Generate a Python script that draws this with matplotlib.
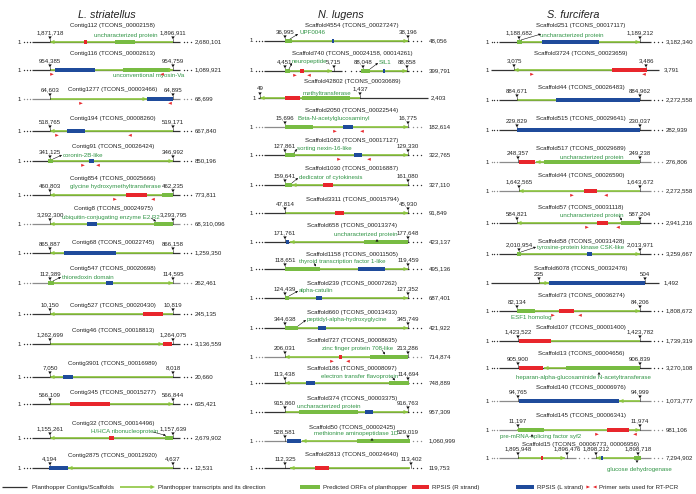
import matplotlib
matplotlib.use("Agg")
import matplotlib.pyplot as plt
from matplotlib.patches import Polygon, Rectangle

plt.rcParams['font.family'] = ['Liberation Sans', 'DejaVu Sans']

TITLES = ["L. striatellus", "N. lugens", "S. furcifera"]

# ---------------- L. striatellus ----------------
L_NAMES = ["Contig112 (TCONS_00002158)", "Contig116 (TCONS_00002613)", "Contig1277 (TCONS_00003466)",
           "Contig194 (TCONS_00008260)", "Contig91 (TCONS_00026424)", "Contig854 (TCONS_00025666)",
           "Contig8 (TCONS_00024975)", "Contig68 (TCONS_00022745)", "Contig547 (TCONS_00020698)",
           "Contig527 (TCONS_00020430)", "Contig46 (TCONS_00018813)", "Contig3901 (TCONS_00016989)",
           "Contig345 (TCONS_00015277)", "Contig32 (TCONS_00014496)", "Contig2875 (TCONS_00012920)"]
L_COORDS = [["1,871,718", "1,896,911"], ["954,385", "954,759"], ["64,603", "64,895"], ["518,765", "519,171"],
            ["341,125", "346,992"], ["460,803", "462,235"], ["3,292,300", "3,293,795"], ["865,887", "866,158"],
            ["112,389", "114,595"], ["10,150", "10,819"], ["1,262,699", "1,264,075"], ["7,050", "8,018"],
            ["566,109", "566,844"], ["1,155,261", "1,157,639"], ["4,194", "4,637"]]
L_LENGTHS = ["2,680,101", "1,089,921", "68,699", "667,840", "850,196", "773,811", "68,310,096", "1,259,350",
             "262,461", "245,135", "3,136,559", "20,660", "635,421", "2,679,902", "12,531"]
L_MARKS = [[50, 173], [50, 173], [50, 173], [50, 173], [50, 173], [50, 173], [50, 173], [50, 173],
           [50, 173], [50, 173], [50, 173], [50, 173], [50, 173], [50, 173], [50, 173]]
L_TX = [[(50, 173, 'L')], [(50, 173, 'R')], [(50, 147, 'R')], [(50, 173, 'L')], [(50, 173, 'R')],
        [(50, 173, 'L')], [(50, 173, 'L')], [(50, 173, 'L')], [(50, 173, 'R')], [(50, 173, 'L')],
        [(50, 163, 'R')], [(50, 173, 'L')], [(50, 173, 'R')], [(50, 173, 'L')], [(68, 173, 'L')]]
L_ORF = [[(115, 135)], [(123, 170)], [], [], [(48, 53)], [(162, 173)], [(154, 173)], [], [(48, 54)], [],
         [], [], [], [(165, 173)], []]
L_RED = [[(84, 87)], [], [], [], [], [(126, 147)], [], [], [], [(143, 163)], [(163, 172)], [], [(70, 110)],
         [(109, 114)], []]
L_BLUE = [[], [(55, 95)], [(147, 173)], [(67, 85)], [(89, 94)], [], [(87, 97)], [(64, 116)], [(106, 113)],
          [], [], [(63, 73)], [], [], [(49, 68)]]
L_PRIMERS = [[], [(52, 'R'), (162, 'L')], [(81, 'R'), (170, 'L')], [(57, 'R'), (130, 'L')],
             [(83, 'R'), (98, 'L')], [(115, 'R'), (153, 'L')], [], [], [], [], [], [], [], [], []]
L_NOTES = [[("uncharacterized protein", 126, -7, 'center')], [("unconventional myosin-Va", 149, 6, 'center')],
           [], [], [("coronin-2B-like", 63, -6, 'left')],
           [("glycine hydroxymethyltransferase", 115, -9, 'center')],
           [("ubiquitin-conjugating enzyme E2 R2", 111, -6.5, 'center')], [],
           [("thioredoxin domain", 62, -6, 'left')], [], [], [], [],
           [("H/HCA ribonucleoprotein", 125, -7, 'center')], []]
L_PTRS = [[], [], [], [], [(53, -2, 62, -6)], [], [(151, -6, 156, -2.5)], [], [(53, -2, 61, -6)], [], [],
          [], [], [(153, -6, 166, -2.5)], []]
L_TICKS = [[] for _ in L_NAMES]
L_NODOTS = []
L_BREAKS = {}
L_GRAY = [2, 6, 8]

# ---------------- N. lugens ----------------
N_NAMES = ["Scaffold4554 (TCONS_00027247)", "Scaffold740 (TCONS_00024158, 00014261)",
           "Scaffold42802 (TCONS_00030689)", "Scaffold2050 (TCONS_00022544)", "Scaffold1083 (TCONS_00017127)",
           "Scaffold1030 (TCONS_00016887)", "Scaffold3311 (TCONS_00015794)", "Scaffold658 (TCONS_00013374)",
           "Scaffold1158 (TCONS_00011505)", "Scaffold239 (TCONS_00007262)", "Scaffold660 (TCONS_00013433)",
           "Scaffold727 (TCONS_00008635)", "Scaffold186 (TCONS_00008097)", "Scaffold374 (TCONS_00003375)",
           "Scaffold50 (TCONS_00002425)", "Scaffold2813 (TCONS_00024640)"]
N_COORDS = [["36,995", "38,196"], ["4,451", "5,715", "88,048", "88,858"], ["49", "1,437"], ["15,696", "16,775"],
            ["127,861", "129,330"], ["159,641", "161,080"], ["47,814", "45,930"], ["171,761", "177,648"],
            ["118,651", "119,459"], ["124,439", "127,352"], ["344,638", "345,749"], ["206,031", "213,286"],
            ["113,438", "114,694"], ["915,860", "916,763"], ["528,581", "529,019"], ["112,325", "113,402"]]
N_LENGTHS = ["48,056", "399,791", "2,403", "182,614", "322,765", "327,110", "91,849", "423,137", "495,136",
             "687,401", "421,922", "714,874", "748,889", "957,309", "1,060,999", "119,753"]
N_MARKS = [[53, 176], [53, 102, 131, 175], [28, 128], [53, 176], [53, 176], [53, 176], [53, 176], [53, 176],
           [53, 176], [53, 176], [53, 176], [53, 176], [53, 176], [53, 176], [53, 176], [53, 179]]
N_TX = [[(53, 176, 'R')], [(53, 100, 'R'), (131, 175, 'R')], [(28, 128, 'L')], [(53, 176, 'R')],
        [(53, 176, 'R')], [(60, 176, 'L')], [(53, 176, 'R')], [(58, 176, 'L')], [(53, 176, 'R')],
        [(53, 176, 'R')], [(53, 176, 'R')], [(53, 176, 'L')], [(53, 176, 'L')], [(53, 176, 'R')],
        [(70, 176, 'L')], [(58, 178, 'L')]]
N_ORF = [[(53, 60)], [(53, 58), (129, 138)], [(70, 118)], [(53, 81)], [(53, 63)], [(53, 60)], [],
         [(132, 176)], [(53, 88)], [(53, 57)], [(53, 66)], [(138, 176)], [(157, 177)], [(67, 126)],
         [(125, 178)], []]
N_RED = [[], [(68, 72)], [(53, 68)], [], [], [(91, 101)], [(103, 112)], [], [], [], [], [(107, 110)], [], [],
         [], [(83, 97)]]
N_BLUE = [[(100, 102)], [(151, 153)], [], [(111, 121)], [(122, 130)], [], [], [(54, 57)], [(126, 153)],
          [(84, 90)], [(86, 94)], [], [(74, 83)], [(133, 141)], [(55, 69)], []]
N_PRIMERS = [[], [(63, 'R'), (77, 'L')], [], [(103, 'R'), (130, 'L')], [(107, 'R'), (137, 'L')], [], [], [],
             [], [], [], [(100, 'R'), (116, 'L')], [], [], [], []]
N_NOTES = [[("UPF0046", 67, -8, 'left')], [("neuropeptide", 60, -9, 'left'), ("SIL1", 147, -9, 'left')],
           [("methyltransferase", 95, -5, 'center')], [("Beta-N-acetylglucosaminyl", 65, -9, 'left')],
           [("sorting nexin-16-like", 65, -7, 'left')], [("dedicator of cytokinesis", 67, -8, 'left')], [],
           [("uncharacterized protein", 134, -8, 'center')],
           [("thyroid transcription factor 1-like", 67, -8, 'left')], [("alpha-catulin", 67, -8, 'left')],
           [("peptidyl-alpha-hydroxyglycine", 75, -9, 'left')],
           [("zinc finger protein 708-like", 126, -9, 'center')],
           [("electron transfer flavoprotein", 128, -7, 'center')],
           [("uncharacterized protein", 97, -6, 'center')],
           [("methionine aminopeptidase 1D", 124, -8, 'center')], []]
N_PTRS = [[(58, -2, 66, -7)], [(57, -2, 60, -8), (138, -2, 146, -8)], [], [], [(62, -2, 65, -6)],
          [(60, -2, 66, -7)], [], [], [(82, -6, 84, -2.5)], [(57, -2, 66, -7)], [(66, -2, 74, -8)],
          [(150, -7, 153, -2.5)], [(160, -6, 163, -2.5)], [], [], []]
N_TICKS = [[], [], [], [], [], [], [], [(145, -3, 'U')], [], [], [], [], [], [], [(140, -3, 'U')], []]
N_NODOTS = [2]
N_BREAKS = {1: (110, 127)}
N_GRAY = [3, 11, 14]

# ---------------- S. furcifera ----------------
S_NAMES = ["Scaffold251 (TCONS_00017117)", "Scaffold3724 (TCONS_00023659)", "Scaffold44 (TCONS_00026483)",
           "Scaffold515 (TCONS_00029641)", "Scaffold517 (TCONS_00029689)", "Scaffold44 (TCONS_00026590)",
           "Scaffold57 (TCONS_00031118)", "Scaffold58 (TCONS_00031428)", "Scaffold6078 (TCONS_00032476)",
           "Scaffold73 (TCONS_00036274)", "Scaffold107 (TCONS_00001400)", "Scaffold13 (TCONS_00004656)",
           "Scaffold140 (TCONS_00006976)", "Scaffold145 (TCONS_00006341)",
           "Scaffold15 (TCONS_00006773, 00006956)"]
S_COORDS = [["1,188,682", "1,189,212"], ["3,075", "3,486"], ["884,671", "884,962"], ["229,829", "230,037"],
            ["248,357", "249,238"], ["1,642,565", "1,643,672"], ["584,821", "587,204"],
            ["2,010,954", "2,013,971"], ["235", "504"], ["82,134", "84,206"], ["1,423,522", "1,423,782"],
            ["905,900", "906,839"], ["94,765", "94,999"], ["11,197", "11,974"],
            ["1,895,948", "1,896,476", "1,898,212", "1,898,718"]]
S_LENGTHS = ["3,182,340", "3,791", "2,272,558", "282,939", "276,806", "2,272,558", "2,941,216", "3,259,667",
             "1,492", "1,808,672", "1,739,319", "3,270,108", "1,073,777", "981,106", "7,294,902"]
S_MARKS = [[55, 176], [50, 182], [53, 176], [53, 176], [54, 176], [55, 176], [53, 176], [55, 176],
           [75, 181], [53, 176], [54, 176], [54, 176], [54, 176], [54, 176], [54, 103, 132, 174]]
S_TX = [[(55, 176, 'R')], [(50, 182, 'L')], [(53, 92, None)], [], [(72, 176, 'L')], [(55, 176, 'L')],
        [(53, 176, 'L')], [(55, 176, 'R')], [(75, 85, 'R')], [(53, 176, 'R')], [(87, 176, None)],
        [(80, 176, 'L')], [(155, 176, 'L')], [(53, 176, 'R')], [(54, 101, 'R'), (132, 176, 'L')]]
S_ORF = [[(53, 58)], [], [], [], [(80, 176)], [], [(157, 176)], [(53, 57)], [], [(53, 71)], [],
         [(102, 176)], [], [(54, 80)], [(170, 177)]]
S_RED = [[], [(148, 183)], [], [], [(55, 71)], [(120, 133)], [(133, 144)], [], [], [(95, 110)], [(55, 87)],
         [(55, 79)], [], [(143, 165)], [(77, 79)]]
S_BLUE = [[(78, 135)], [], [(92, 176)], [(53, 176)], [], [], [], [(123, 128)], [(85, 181)], [], [], [],
          [(55, 155)], [], [(137, 139)]]
S_PRIMERS = [[], [(68, 'R'), (180, 'L')], [], [], [], [(108, 'R'), (142, 'L')], [(123, 'R'), (154, 'L')],
             [], [], [(89, 'R'), (116, 'L')], [], [], [], [(133, 'R'), (171, 'L')], []]
S_NOTES = [[("uncharacterized protein", 108, -7, 'center')], [], [], [],
           [("uncharacterized protein", 128, -5, 'center')], [],
           [("uncharacterized protein", 128, -8, 'center')],
           [("tyrosine-protein kinase CSK-like", 73, -7, 'left')], [], [("ESF1 homolog", 47, 6, 'left')], [],
           [("heparan-alpha-glucosaminide N-acetyltransferase", 119, 9, 'center')], [],
           [("pre-mRNA-splicing factor syf2", 77, 6, 'center')],
           [("glucose dehydrogenase", 175, 11, 'center')]]
S_PTRS = [[(57, -2, 77, -8)], [], [], [], [], [], [(155, -7, 158, -2.5)], [(57, -2, 72, -7)], [], [], [], [],
          [], [], []]
S_TICKS = [[], [], [], [], [], [], [], [], [], [], [], [(135, 4, 'U')], [], [(68, 4, 'U')], [(173, 5, 'D')]]
S_NODOTS = [1, 8]
S_BREAKS = {14: (112, 127)}
S_GRAY = [4, 5, 12, 13, 14]

LEGEND_LABELS = ["Planthopper Contigs/Scaffolds", "Planthopper transcripts and its direction",
                 "Predicted ORFs of planthopper", "RPSIS (R strand)", "RPSIS (L strand)",
                 "Primer sets used for RT-PCR"]

# ---------------- layout ----------------
ROW_Y = [[42, 70, 99, 131, 161, 195, 224, 253, 283, 314, 344, 377, 404, 438, 468],
         [41, 71, 98, 127, 155, 185, 213, 242, 269, 298, 328, 357, 383, 412, 441, 468],
         [42, 70, 100, 130, 162, 191, 223, 254, 283, 311, 341, 368, 401, 430, 458]]
HDR_DY = [[-17, -17, -9, -13, -15, -17, -16, -11, -15, -9, -14, -14, -12, -15, -13],
          [-16, -18, -16, -17, -15, -17, -14, -17, -15, -15, -16, -17, -15, -14, -14, -14],
          [-17, -17, -12, -12, -14, -16, -16, -13, -15, -16, -14, -15, -14, -15, -14]]
OFFX = [0, 232, 464]
ONE_X = [20.5, 20.5, 24.5]
DOTS_L = [(24, 29.5), (24, 29.5), (27.5, 33)]
LINE = [(32, 180), (32, 177), (35, 187)]
DOTS_R = [(183.5, 191), (180.5, 189), (190, 197.5)]
LEN_X = [195, 197, 202]
NODOT_ONE = [24, 24, 25]
NODOT_LINE = [(26, 196), (26, 196), (27, 195)]
NODOT_LEN = [199, 199, 200]
HDR_X = [113, 120, 117]
TITLE_X = [107, 109, 109]

W, H = 696, 494
FS = 4.4
DARK = '#333333'
GRAY = '#8c8c8c'
TXG = '#8dc63f'
ORFG = '#78bc43'
RED = '#e8262c'
BLUE = '#1f4b9b'
NOTEG = '#2f9444'

fig = plt.figure(figsize=(W / 100, H / 100), dpi=100)
ax = fig.add_axes([0, 0, 1, 1])
ax.set_xlim(0, W)
ax.set_ylim(H, 0)
ax.axis('off')


def tri(x, y, d, L, hh, color, z=6):
    if d == 'R':
        pts = [(x - L, y - hh / 2), (x - L, y + hh / 2), (x, y)]
    elif d == 'L':
        pts = [(x + L, y - hh / 2), (x + L, y + hh / 2), (x, y)]
    elif d == 'D':
        pts = [(x - hh / 2, y - L), (x + hh / 2, y - L), (x, y)]
    else:
        pts = [(x - hh / 2, y + L), (x + hh / 2, y + L), (x, y)]
    ax.add_patch(Polygon(pts, closed=True, facecolor=color, edgecolor='none', zorder=z))


def bar(x0, x1, y, color, z=4, h=4.4):
    ax.add_patch(Rectangle((x0, y - h / 2), x1 - x0, h, facecolor=color, edgecolor='none', zorder=z))


def dots(xa, xb, y, color):
    xs = [xa + (xb - xa) * k / 2 for k in range(3)]
    ax.plot(xs, [y] * 3, 'o', ms=1.0, mew=0, color=color, zorder=2)


COLS = [
    dict(names=L_NAMES, coords=L_COORDS, lengths=L_LENGTHS, marks=L_MARKS, tx=L_TX, orf=L_ORF, red=L_RED,
         blue=L_BLUE, primers=L_PRIMERS, notes=L_NOTES, ptrs=L_PTRS, ticks=L_TICKS, nodots=L_NODOTS,
         breaks=L_BREAKS, gray=L_GRAY),
    dict(names=N_NAMES, coords=N_COORDS, lengths=N_LENGTHS, marks=N_MARKS, tx=N_TX, orf=N_ORF, red=N_RED,
         blue=N_BLUE, primers=N_PRIMERS, notes=N_NOTES, ptrs=N_PTRS, ticks=N_TICKS, nodots=N_NODOTS,
         breaks=N_BREAKS, gray=N_GRAY),
    dict(names=S_NAMES, coords=S_COORDS, lengths=S_LENGTHS, marks=S_MARKS, tx=S_TX, orf=S_ORF, red=S_RED,
         blue=S_BLUE, primers=S_PRIMERS, notes=S_NOTES, ptrs=S_PTRS, ticks=S_TICKS, nodots=S_NODOTS,
         breaks=S_BREAKS, gray=S_GRAY),
]

for ci, C in enumerate(COLS):
    ox = OFFX[ci]
    ax.text(ox + TITLE_X[ci], 15, TITLES[ci], fontsize=7.8, style='italic', ha='center', va='center',
            color='#222222')
    for ti, name in enumerate(C['names']):
        y = ROW_Y[ci][ti]
        lc = GRAY if ti in C['gray'] else DARK
        # header
        ax.text(ox + HDR_X[ci], y + HDR_DY[ci][ti], name, fontsize=FS, ha='center', va='center', color='#222222')
        # contig line
        if ti in C['nodots']:
            ax.text(ox + NODOT_ONE[ci], y, "1", fontsize=FS, ha='right', va='center', color='#222222')
            l0, l1 = NODOT_LINE[ci]
            lenx = NODOT_LEN[ci]
        else:
            ax.text(ox + ONE_X[ci], y, "1", fontsize=FS, ha='right', va='center', color='#222222')
            dots(ox + DOTS_L[ci][0], ox + DOTS_L[ci][1], y, lc)
            dots(ox + DOTS_R[ci][0], ox + DOTS_R[ci][1], y, lc)
            l0, l1 = LINE[ci]
            lenx = LEN_X[ci]
        if ti in C['breaks']:
            b0, b1 = C['breaks'][ti]
            ax.plot([ox + l0, ox + b0], [y, y], color=lc, lw=0.9, zorder=1, solid_capstyle='butt')
            ax.plot([ox + b1, ox + l1], [y, y], color=lc, lw=0.9, zorder=1, solid_capstyle='butt')
            dots(ox + b0 + 3, ox + b1 - 3, y, lc)
        else:
            ax.plot([ox + l0, ox + l1], [y, y], color=lc, lw=0.9, zorder=1, solid_capstyle='butt')
        ax.text(ox + lenx, y, C['lengths'][ti], fontsize=FS, ha='left', va='center', color='#222222')
        # transcripts
        for (a, b, d) in C['tx'][ti]:
            ax.plot([ox + a, ox + b], [y, y], color=TXG, lw=1.2, zorder=2, solid_capstyle='butt')
            if d == 'R':
                tri(ox + b, y, 'R', 4.5, 4.2, TXG, z=5)
            elif d == 'L':
                tri(ox + a, y, 'L', 4.5, 4.2, TXG, z=5)
        for (a, b) in C['orf'][ti]:
            bar(ox + a, ox + b, y, ORFG)
        for (a, b) in C['red'][ti]:
            bar(ox + a, ox + b, y, RED)
        for (a, b) in C['blue'][ti]:
            bar(ox + a, ox + b, y, BLUE)
        for (x, d) in C['primers'][ti]:
            if d == 'R':
                tri(ox + x + 1.8, y + 4.3, 'R', 3.6, 3.0, RED, z=6)
            else:
                tri(ox + x - 1.8, y + 4.3, 'L', 3.6, 3.0, RED, z=6)
        # coordinate markers
        for m, lab in zip(C['marks'][ti], C['coords'][ti]):
            ax.plot([ox + m, ox + m], [y - 3, y], color='#111111', lw=0.4, zorder=3)
            tri(ox + m, y - 2.6, 'D', 3.0, 3.4, '#111111', z=7)
            ax.text(ox + m, y - 9, lab, fontsize=FS, ha='center', va='center', color='#222222')
        for (txt, x, dy, ha) in C['notes'][ti]:
            ax.text(ox + x, y + dy, txt, fontsize=FS, ha=ha, va='center', color=NOTEG)
        for (x0, dy0, x1, dy1) in C['ptrs'][ti]:
            ax.annotate('', xy=(ox + x1, y + dy1), xytext=(ox + x0, y + dy0),
                        arrowprops=dict(arrowstyle='-|>', lw=0.4, color='#111111', mutation_scale=3,
                                        shrinkA=0, shrinkB=0), zorder=8)
        for (x, dy, d) in C['ticks'][ti]:
            tri(ox + x, y + dy, d, 2.6, 3.0, '#111111', z=8)

# ---------------- legend ----------------
LY = 487
ax.plot([2, 27], [LY, LY], color=DARK, lw=0.9, solid_capstyle='butt')
ax.text(32, LY, LEGEND_LABELS[0], fontsize=FS, ha='left', va='center', color='#222222')
ax.plot([120, 152], [LY, LY], color=TXG, lw=1.2, solid_capstyle='butt')
tri(155, LY, 'R', 4.5, 4.2, TXG)
ax.text(158, LY, LEGEND_LABELS[1], fontsize=FS, ha='left', va='center', color='#222222')
bar(300, 320, LY, ORFG)
ax.text(323, LY, LEGEND_LABELS[2], fontsize=FS, ha='left', va='center', color='#222222')
bar(412, 429, LY, RED)
ax.text(432, LY, LEGEND_LABELS[3], fontsize=FS, ha='left', va='center', color='#222222')
bar(516, 534, LY, BLUE)
ax.text(537, LY, LEGEND_LABELS[4], fontsize=FS, ha='left', va='center', color='#222222')
tri(590, LY, 'R', 3.6, 3.0, RED)
tri(593, LY, 'L', 3.6, 3.0, RED)
ax.text(599, LY, LEGEND_LABELS[5], fontsize=FS, ha='left', va='center', color='#222222')

fig.savefig("out.png", dpi=100)
